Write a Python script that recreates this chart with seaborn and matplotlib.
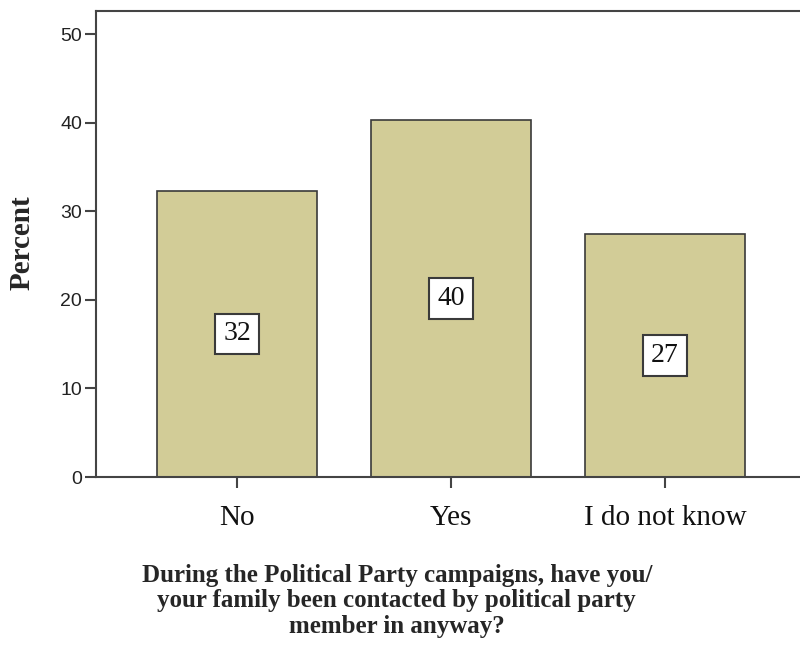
import numpy as np
import matplotlib
matplotlib.use("Agg")
import matplotlib.pyplot as plt
import pandas as pd
import seaborn as sns

# reponses et pourcentages
categories = ["No", "Yes", "I do not know"]
percent = [32.3, 40.3, 27.4]
labels = ["32", "40", "27"]
yticks = [0, 10, 20, 30, 40, 50]

sns.set_style("white")

data = pd.DataFrame({"reponse": categories, "percent": percent})

fig = plt.figure(figsize=(8, 6.49), dpi=100)
ax = fig.add_axes([0.12, 0.265, 0.8875, 0.718])

sns.barplot(data=data, x="reponse", y="percent", color="#d2cc97", saturation=1,
            width=0.75, edgecolor="#3a3a3a", linewidth=1.2, ax=ax)

# etiquettes au milieu des barres
for i, (v, lab) in enumerate(zip(percent, labels)):
    ax.text(i, v / 2, lab, ha="center", va="center", fontsize=20,
            family="Liberation Serif", color="#111111",
            bbox=dict(boxstyle="square,pad=0.28", fc="white", ec="#3a3a3a", lw=1.5))

ax.set_xlim(-0.66, 2.66)
ax.set_ylim(0, 52.6)
ax.set_yticks(yticks)
ax.set_yticklabels([str(t) for t in yticks], family="Liberation Sans", fontsize=14, color="#222222")
ax.set_xticks(range(len(categories)))
ax.set_xticklabels(categories, family="Liberation Serif", fontsize=21, color="#111111")

for s in ax.spines.values():
    s.set_color("#444444")
    s.set_linewidth(1.5)

ax.tick_params(axis="y", direction="out", length=8, width=1.5, color="#444444", pad=2, left=True)
ax.tick_params(axis="x", direction="out", length=8, width=1.5, color="#444444", pad=12, bottom=True)

ax.set_xlabel("")
ax.set_ylabel("")
fig.text(0.028, 0.626, "Percent", rotation=90, ha="center", va="center",
         family="Liberation Serif", fontweight="bold", fontsize=21)
fig.text(0.496, 0.074,
         "During the Political Party campaigns, have you/\nyour family been contacted by political party\nmember in anyway?",
         ha="center", va="center", family="Liberation Serif", fontweight="bold",
         fontsize=18, linespacing=1.12)

plt.savefig("out.png", dpi=100)
